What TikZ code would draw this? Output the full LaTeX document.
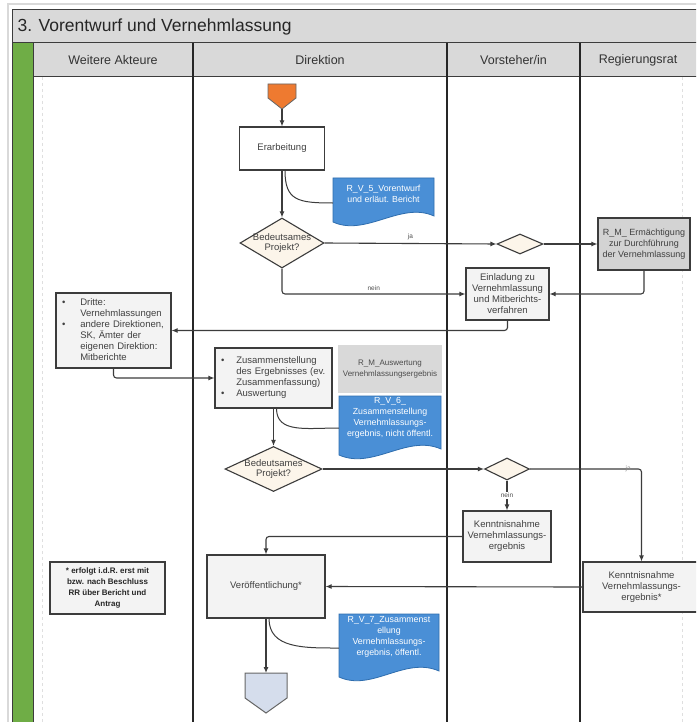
\documentclass[tikz,border=0pt]{standalone}
\usepackage{fontspec}
\setmainfont{Liberation Sans}
\usetikzlibrary{arrows.meta}
\usetikzlibrary{shapes.geometric}

\definecolor{titlegrey}{HTML}{D9D9D9}
\definecolor{lanegreen}{HTML}{6FAD46}
\definecolor{docblue}{HTML}{4A8FD6}
\definecolor{docedge}{HTML}{2E6DAE}
\definecolor{startorange}{HTML}{EE7A30}
\definecolor{endblue}{HTML}{D5DDEC}
\definecolor{boxfill}{HTML}{F3F3F3}
\definecolor{rmgrey}{HTML}{D3D3D3}
\definecolor{decfill}{HTML}{FCF5EA}
\definecolor{linegrey}{HTML}{3C3C3C}

\tikzset{
  task/.style={draw=linegrey, line width=1.1pt, fill=boxfill, align=center, text=black!75,
    font=\fontsize{9.5}{11}\selectfont, inner sep=2pt},
  decision/.style={diamond, draw=linegrey, line width=1.1pt, fill=decfill, inner sep=0pt},
  dectext/.style={align=center, text=black!75, font=\fontsize{9.5}{10.5}\selectfont},
  doctext/.style={align=center, text=white, font=\fontsize{8.8}{11}\selectfont, inner sep=0pt},
  docshape/.style={fill=docblue, draw=docedge, line width=0.8pt},
  flow/.style={draw=linegrey, line width=1.1pt, rounded corners=3pt, -{Latex[length=6pt,width=5pt]}},
  assoc/.style={draw=linegrey, line width=1pt},
  lbl/.style={font=\fontsize{6.5}{7}\selectfont, text=black!70, inner sep=1pt},
  lanehead/.style={font=\fontsize{12.5}{14}\selectfont, text=black!80},
}

\begin{document}
\begin{tikzpicture}[x=1pt,y=-1pt]
\clip (0,0) rectangle (696,722);
\fill[white] (0,0) rectangle (696,722);
\draw[gray!30, line width=1.5pt] (8,4) rectangle (710,730);

% title, header row and lanes
\fill[titlegrey] (12,10) rectangle (710,77);
\draw[linegrey, line width=1pt] (12,10) rectangle (710,43);
\fill[lanegreen] (13,43) rectangle (33,722);
\draw[linegrey, line width=1pt] (12,43) -- (12,722);
\draw[linegrey, line width=1pt] (33,43) -- (33,722);
\draw[linegrey, line width=1pt] (33,77) -- (710,77);
\draw[gray!25, dashed] (42,77) -- (42,722);
\draw[gray!25, dashed] (682,77) -- (682,722);
\foreach \x in {193,447,580}
  \draw[black!85, line width=1.8pt] (\x,43) -- (\x,722);

\node[anchor=west, font=\fontsize{17.5}{20}\selectfont, text=black!85] (title) at (14,27) {3. Vorentwurf und Vernehmlassung};
\node[lanehead] (akteure) at (113,60) {Weitere Akteure};
\node[lanehead] (direktion) at (320,60) {Direktion};
\node[lanehead] (vorsteher) at (513.5,60) {Vorsteher/in};
\node[lanehead] (rr) at (638,60) {Regierungsrat};

% start and end
\filldraw[fill=startorange, draw=black!60, line width=0.8pt] (268,84) -- (296,84) -- (296,98) -- (282,109) -- (268,98) -- cycle;
\coordinate (start) at (282,109);
\filldraw[fill=endblue, draw=black!60, line width=1pt] (245,673) -- (287,673) -- (287,698) -- (266,713) -- (245,698) -- cycle;
\coordinate (end) at (266,673);

% tasks
\node[task, fill=white, minimum width=85pt, minimum height=43pt] (erarb) at (282,148.5) {Erarbeitung};
\node[task, fill=rmgrey, font=\fontsize{9}{11}\selectfont, minimum width=92pt, minimum height=52pt] (rm) at (644,244) {R\_M\_ Ermächtigung\\zur Durchführung\\der Vernehmlassung};
\node[task, minimum width=83pt, minimum height=52pt] (einl) at (507.5,294) {Einladung zu\\Vernehmlassung\\und Mitberichts-\\verfahren};
\node[task, minimum width=115pt, minimum height=75pt, text width=103pt, inner xsep=6pt, align=left] (dritte) at (113.5,330.5)
  {\begin{tabular}{@{}l@{\hspace{15pt}}l@{}}\textbullet & Dritte:\\ & Vernehmlassungen\\ \textbullet & andere Direktionen,\\ & SK, Ämter der\\ & eigenen Direktion:\\ & Mitberichte\end{tabular}};
\node[task, minimum width=117pt, minimum height=60pt, text width=105pt, inner xsep=6pt, align=left] (zus) at (273.5,378)
  {\begin{tabular}{@{}l@{\hspace{12pt}}l@{}}\textbullet & Zusammenstellung\\ & des Ergebnisses (ev.\\ & Zusammenfassung)\\ \textbullet & Auswertung\end{tabular}};
\node[fill=titlegrey, align=center, text=black!70, font=\fontsize{8}{11}\selectfont, minimum width=104pt, minimum height=48pt] (rmausw) at (390,369) {R\_M\_Auswertung\\Vernehmlassungsergebnis};
\node[task, minimum width=88pt, minimum height=51pt] (kv) at (507,536.5) {Kenntnisnahme\\Vernehmlassungs-\\ergebnis};
\node[task, minimum width=117pt, minimum height=50pt] (krr) at (641.5,587) {Kenntnisnahme\\Vernehmlassungs-\\ergebnis*};
\node[task, minimum width=118pt, minimum height=63pt] (ver) at (266,586.5) {Veröffentlichung*};
\node[task, line width=1.6pt, font=\bfseries\fontsize{8}{11}\selectfont, text=black!85, minimum width=115pt, minimum height=52pt] (note) at (107.5,588)
  {* erfolgt i.d.R. erst mit\\bzw. nach Beschluss\\RR über Bericht und\\Antrag};

% decisions
\node[decision, minimum width=84pt, minimum height=50pt, label={[dectext]center:Bedeutsames\\Projekt?}] (d1) at (282,243) {};
\node[decision, minimum width=46pt, minimum height=20pt] (sd1) at (520,244) {};
\node[decision, minimum width=97pt, minimum height=45pt, label={[dectext]center:Bedeutsames\\Projekt?}] (d2) at (273.5,469) {};
\node[decision, minimum width=45pt, minimum height=22pt] (sd2) at (507,469) {};

% documents
\filldraw[docshape] (333,178) -- (434,178) -- (434,216) .. controls (401,201) and (366,237) .. (333,222) -- cycle;
\node[doctext, minimum width=101pt] (v5) at (383.5,194) {R\_V\_5\_Vorentwurf\\und erläut. Bericht};
\filldraw[docshape] (339,396) -- (441,396) -- (441,449) .. controls (407,434) and (373,470) .. (339,455) -- cycle;
\node[doctext, minimum width=102pt] (v6) at (390,418) {R\_V\_6\_\\Zusammenstellung\\Vernehmlassungs-\\ergebnis, nicht öffentl.};
\filldraw[docshape] (339,614) -- (439,614) -- (439,671) .. controls (405,656) and (372,692) .. (339,677) -- cycle;
\node[doctext, minimum width=100pt] (v7) at (389,637) {R\_V\_7\_Zusammenst\\ellung\\Vernehmlassungs-\\ergebnis, öffentl.};

% flow
\draw[flow] (start) -- (erarb);
\draw[flow] (erarb) -- (d1);
\draw[assoc] ([xshift=3pt]erarb.south) .. controls +(0,30) and +(-35,0) .. ([yshift=-9pt]v5.west);
\draw[flow] (d1.east) -- (sd1.west) node[lbl, midway, above=2pt] {ja};
\draw[flow] (sd1.east) -- (rm.west);
\draw[flow] (rm.south) |- (einl.east);
\draw[flow] (d1.south) |- (einl.west) node[lbl, pos=0.75, above=2pt] {nein};
\draw[flow] (einl.south) |- (dritte.east);
\draw[flow] (dritte.south) |- (zus.west);
\draw[flow] (zus.south) -- (d2.north);
\draw[assoc] ([xshift=3pt]zus.south) .. controls +(0,25) and +(-32,0) .. ([yshift=-10pt]v6.west);
\draw[flow] (d2.east) -- (sd2.west);
\draw[flow] (sd2.east) -| (krr.north) node[lbl, pos=0.44, text=black!45] {ja};
\draw[flow] (sd2.south) -- (kv.north) node[lbl, midway, fill=white] {nein};
\draw[flow] (kv.west) -| (ver.north);
\draw[flow] (krr.west) -- (ver.east);
\draw[flow] (ver.south) -- (end);
\draw[assoc] ([xshift=3pt]ver.south) .. controls +(0,30) and +(-35,0) .. ([yshift=-11pt]v7.west);
\end{tikzpicture}
\end{document}
